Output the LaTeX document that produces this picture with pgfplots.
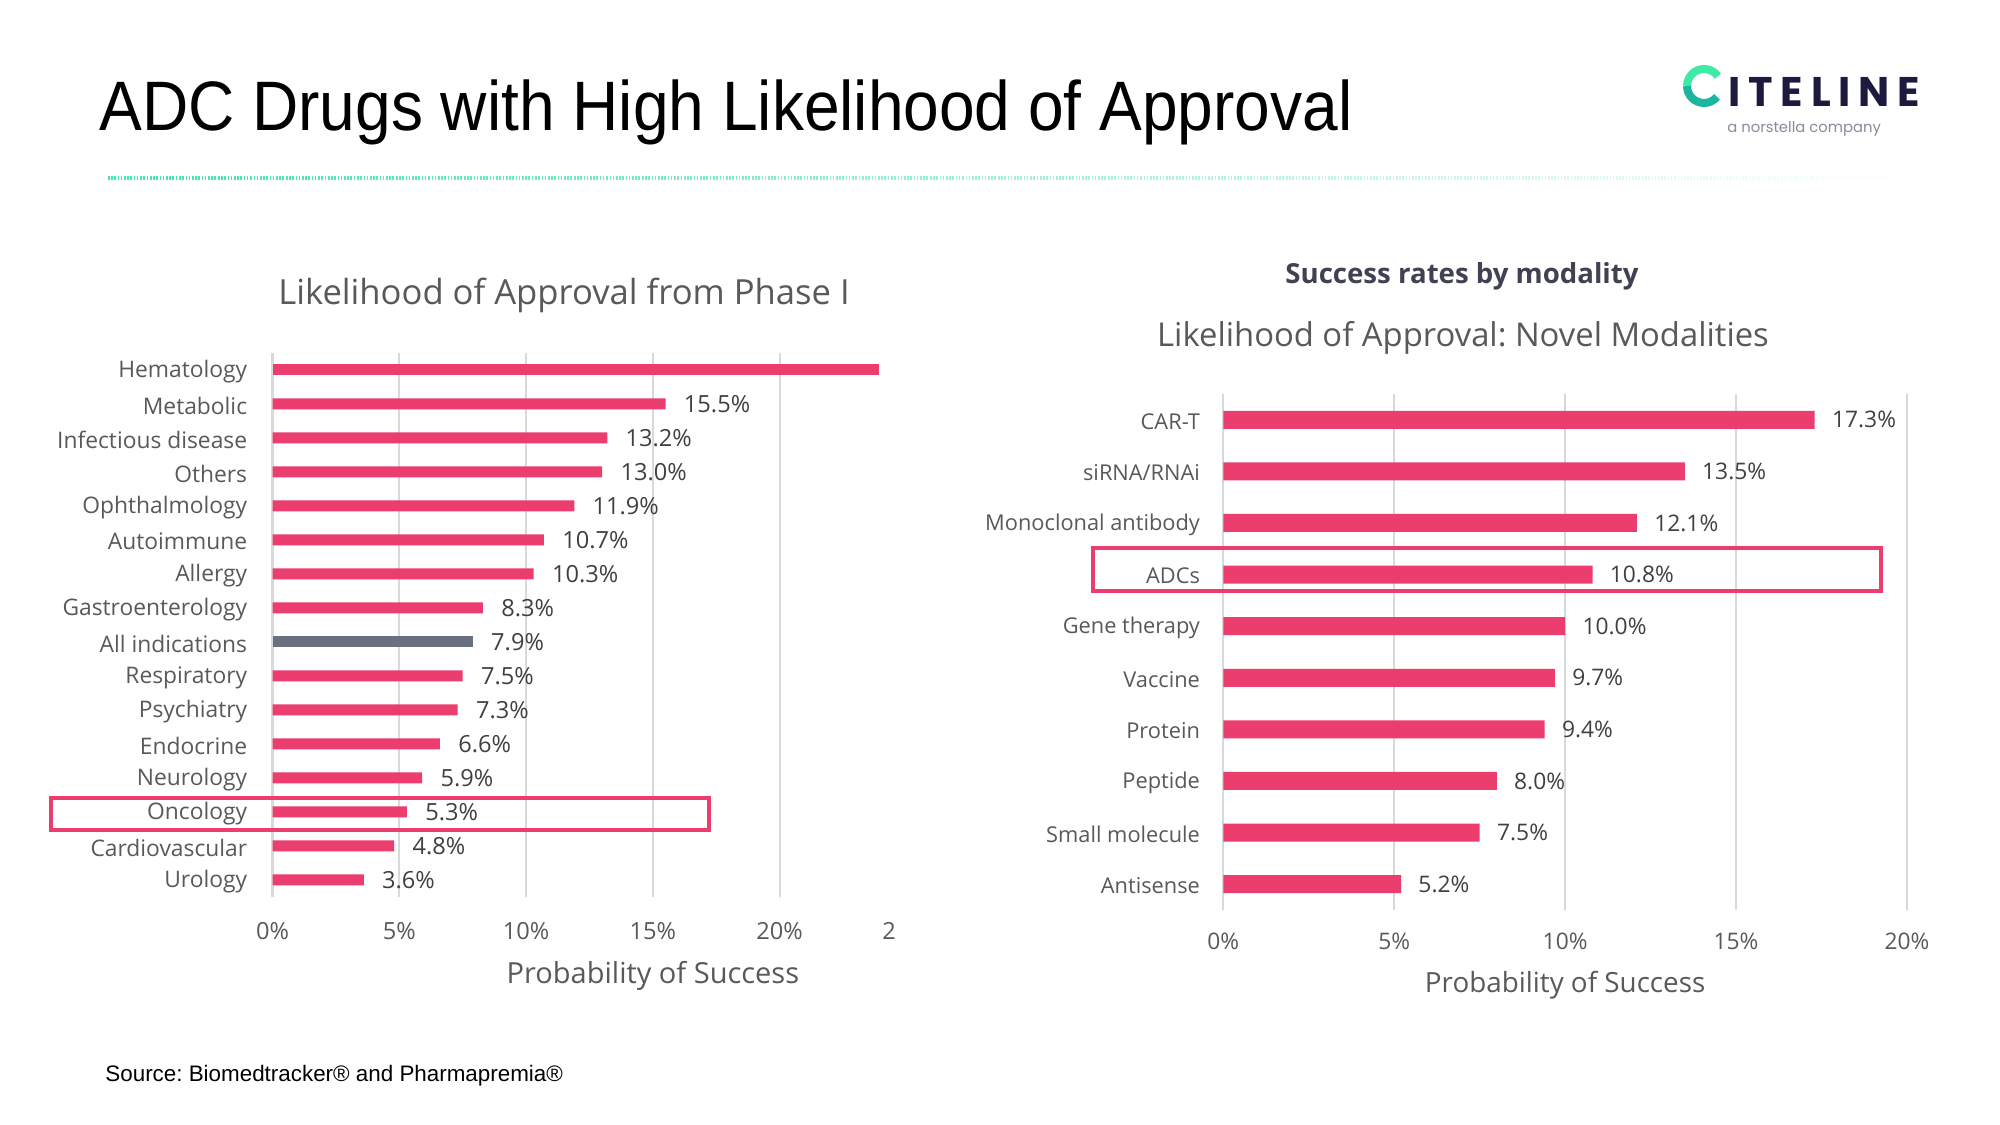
\documentclass[border=0pt]{standalone}
\usepackage{fontspec}
\usepackage{pgfplots}
\pgfplotsset{compat=1.18}
\setmainfont{Open Sans}
\newfontfamily\titlefont[FakeStretch=0.915]{Liberation Sans}
\newfontfamily\arial{Liberation Sans}
\newfontfamily\logofont[LetterSpace=19]{Poppins}
\newfontfamily\logosub{Poppins}
\definecolor{barpink}{HTML}{EC3E6E}
\definecolor{bargray}{HTML}{6B7080}
\definecolor{gridgray}{HTML}{D9D9D9}
\definecolor{txtgray}{HTML}{595959}
\definecolor{lblgray}{HTML}{404040}
\definecolor{subdark}{HTML}{404252}
\definecolor{mint}{HTML}{3EE6B0}
\definecolor{logomint}{HTML}{3DEBA5}
\definecolor{logoteal}{HTML}{1BB5A0}
\definecolor{navy}{HTML}{1C1A3D}
\definecolor{subgray}{HTML}{8B8A9B}
\frenchspacing

\pgfplotsset{
  mybars/.style={
    scale only axis,
    axis line style={draw=none},
    major tick length=0pt,
    xmajorgrids, ymajorgrids=false,
    grid style={gridgray, line width=1.1bp},
    xbar, bar shift=0pt,
    point meta=x,
    /pgf/number format/assume math mode=true,
    nodes near coords={\pgfmathprintnumber[fixed,fixed zerofill,precision=1]{\pgfplotspointmeta}\%},
    every node near coord/.append style={anchor=west, inner sep=0pt, text=lblgray},
    ticklabel style={text=txtgray},
    xticklabels={0\%,5\%,10\%,15\%,20\%},
    xtick={0,5,10,15,20},
    yticklabel style={inner sep=0pt, anchor=east},
    xticklabel style={inner sep=0pt, anchor=north},
  }
}

\begin{document}
\begin{tikzpicture}[x=0.5bp,y=0.5bp]
\fill[white] (0,0) rectangle (2000,1125);

% main title
\node[anchor=base west, inner sep=0pt, font=\titlefont\fontsize{35bp}{40bp}\selectfont] at (99,994) {ADC Drugs with High Likelihood of Approval};

% dotted gradient line
\foreach \i in {0,...,49} {
  \pgfmathtruncatemacro\pct{100-1.96*\i}
  \draw[color=mint!\pct!white, line width=2bp, dash pattern=on 0.8bp off 0.8bp]
    ({108+\i*35.6},947) -- ({108+(\i+1)*35.6},947);
}

% logo
\draw[logomint, line width=4bp] (1704,1039) ++(35:17) arc[start angle=35, end angle=180, radius=17];
\draw[logoteal, line width=4bp] (1704,1039) ++(180:17) arc[start angle=180, end angle=320, radius=17];
\node[anchor=base west, inner sep=0pt, text=navy, font=\logofont\bfseries\fontsize{20.7bp}{24bp}\selectfont] at (1728,1018) {ITELINE};
\node[anchor=base west, inner sep=0pt, text=subgray, font=\logosub\fontsize{7.4bp}{9bp}\selectfont] at (1727,992) {a norstella company};

% chart titles
\node[text=txtgray, font=\fontsize{17.3bp}{20bp}\selectfont] at (564,830) {Likelihood of Approval from Phase I};
\node[text=subdark, font=\bfseries\fontsize{13.8bp}{16bp}\selectfont] at (1462,849) {Success rates by modality};
\node[text=txtgray, font=\fontsize{16.4bp}{19bp}\selectfont] at (1463,787) {Likelihood of Approval: Novel Modalities};

% left chart
\begin{axis}[mybars,
  at={(136.25bp,114bp)}, anchor=south west,
  width=304.3bp, height=272bp,
  xmin=0, xmax=24, ymin=-0.5, ymax=15.5,
  bar width=5.5bp,
  ytick={0,...,15},
  yticklabels={Urology,Cardiovascular,Oncology,Neurology,Endocrine,Psychiatry,Respiratory,All indications,Gastroenterology,Allergy,Autoimmune,Ophthalmology,Others,Infectious disease,Metabolic,Hematology},
  yticklabel style={xshift=-12.5bp, yshift=-0.8bp, font=\fontsize{11.4bp}{13bp}\selectfont},
  xticklabel style={yshift=-12.5bp, font=\fontsize{11.8bp}{13bp}\selectfont},
  every node near coord/.append style={xshift=9bp, font=\fontsize{11.8bp}{13bp}\selectfont},
  xlabel={Probability of Success},
  every axis x label/.style={at={(rel axis cs:0.625,0)}, anchor=center, yshift=-39.5bp, text=txtgray, font=\fontsize{14.5bp}{17bp}\selectfont},
]
\addplot[fill=barpink, draw=none] coordinates {
  (15.5,14) (13.2,13) (13.0,12) (11.9,11) (10.7,10) (10.3,9) (8.3,8)
  (7.5,6) (7.3,5) (6.6,4) (5.9,3) (5.3,2) (4.8,1) (3.6,0)
};
\addplot[fill=bargray, draw=none] coordinates {(7.9,7)};
\addplot[fill=barpink, draw=none, nodes near coords={}] coordinates {(23.9,15)};
\end{axis}
\node[text=txtgray, font=\fontsize{11.8bp}{13bp}\selectfont] at (889,194) {2};

% right chart
\begin{axis}[mybars,
  at={(611.65bp,107.5bp)}, anchor=south west,
  width=341.8bp, height=258bp,
  xmin=0, xmax=20, ymin=-0.5, ymax=9.5,
  bar width=9bp,
  ytick={0,...,9},
  yticklabels={Antisense,Small molecule,Peptide,Protein,Vaccine,Gene therapy,ADCs,Monoclonal antibody,siRNA/RNAi,CAR-T},
  yticklabel style={xshift=-11.5bp, yshift=-0.8bp, font=\fontsize{10.9bp}{13bp}\selectfont},
  xticklabel style={yshift=-11.2bp, font=\fontsize{11.4bp}{13bp}\selectfont},
  every node near coord/.append style={xshift=8.5bp, font=\fontsize{11.4bp}{13bp}\selectfont},
  xlabel={Probability of Success},
  every axis x label/.style={at={(rel axis cs:0.5,0)}, anchor=center, yshift=-37.5bp, text=txtgray, font=\fontsize{13.9bp}{16bp}\selectfont},
]
\addplot[fill=barpink, draw=none] coordinates {
  (17.3,9) (13.5,8) (12.1,7) (10.8,6) (10.0,5) (9.7,4) (9.4,3) (8.0,2) (7.5,1) (5.2,0)
};
\end{axis}

% highlight boxes
\draw[barpink, line width=1.75bp] (51,327) rectangle (709,295);
\draw[barpink, line width=1.75bp] (1093,577) rectangle (1881,534);

% source
\node[anchor=base west, inner sep=0pt, font=\arial\fontsize{11.2bp}{13bp}\selectfont] at (105,43) {Source: Biomedtracker® and Pharmapremia®};
\end{tikzpicture}
\end{document}
